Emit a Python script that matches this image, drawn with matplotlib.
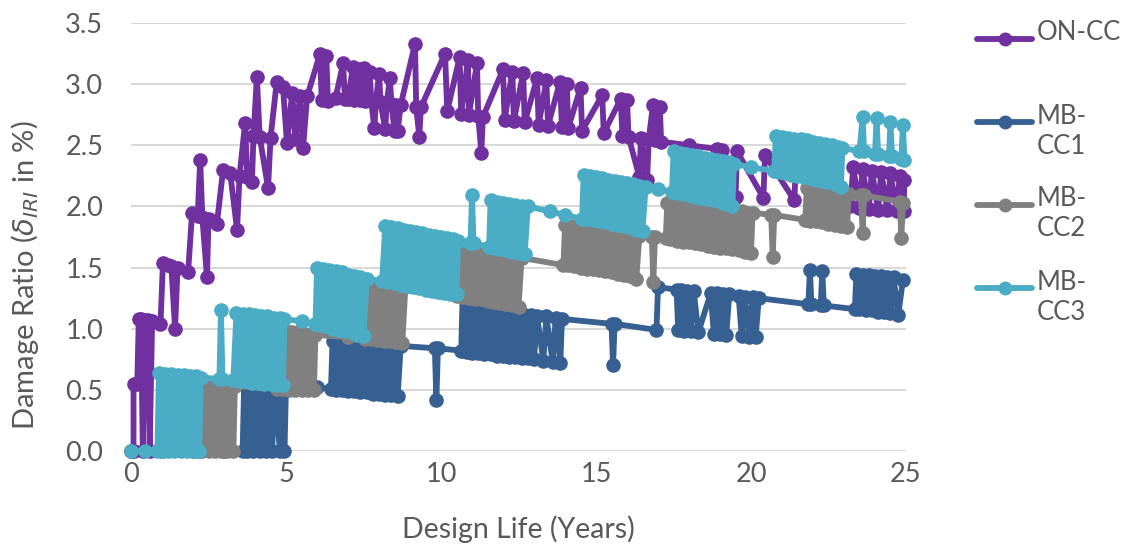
import matplotlib.pyplot as plt
from matplotlib.lines import Line2D

plt.rcParams["font.family"] = ["Lato", "DejaVu Sans"]
plt.rcParams["mathtext.fontset"] = "dejavusans"

# (year, damage ratio) pairs for each strategy
on_cc = [
    (0.0, 0.0), (0.08, 0.0), (0.08, 0.55), (0.2, 0.55), (0.25, 1.08), (0.32, 1.08),
    (0.38, 0.0), (0.45, 1.07), (0.55, 1.07), (0.6, 0.0), (0.68, 1.06), (0.95, 1.04),
    (1.03, 1.54), (1.2, 1.52), (1.3, 1.51), (1.42, 1.0), (1.5, 1.5), (1.84, 1.46),
    (1.97, 1.95), (2.15, 1.92), (2.23, 2.38), (2.3, 1.91), (2.45, 1.42), (2.5, 1.9),
    (2.77, 1.86), (2.97, 2.3), (3.2, 2.27), (3.42, 1.81), (3.5, 2.25), (3.68, 2.68),
    (3.75, 2.24), (3.9, 2.2), (3.95, 2.58), (4.06, 3.06), (4.15, 2.57), (4.42, 2.15),
    (4.5, 2.56), (4.7, 3.02), (4.9, 2.98), (5.03, 2.52), (5.2, 2.93), (5.3, 2.55),
    (5.45, 2.9), (5.55, 2.48), (5.68, 2.9), (6.1, 3.25), (6.15, 2.87), (6.3, 3.23),
    (6.35, 2.86), (6.6, 2.89), (6.84, 3.17), (6.9, 2.88), (7.0, 2.88), (7.16, 3.14),
    (7.2, 2.87), (7.35, 3.12), (7.4, 2.87), (7.5, 3.13), (7.55, 2.86), (7.7, 3.1),
    (7.75, 2.86), (7.85, 2.64), (7.9, 2.86), (8.0, 3.08), (8.05, 2.85), (8.2, 2.63),
    (8.25, 2.85), (8.35, 3.05), (8.4, 2.84), (8.5, 2.62), (8.55, 2.83), (8.6, 2.62),
    (8.7, 2.83), (9.16, 3.33), (9.2, 2.81), (9.3, 2.57), (9.35, 2.81), (10.13, 3.25),
    (10.2, 2.78), (10.6, 3.22), (10.65, 2.76), (10.87, 3.2), (10.9, 2.75), (11.16, 3.17),
    (11.2, 2.74), (11.3, 2.44), (11.35, 2.73), (12.0, 3.12), (12.05, 2.71), (12.3, 3.1),
    (12.35, 2.7), (12.65, 3.09), (12.7, 2.69), (13.1, 3.05), (13.15, 2.67), (13.4, 3.03),
    (13.45, 2.66), (13.84, 3.02), (13.9, 2.65), (14.06, 3.0), (14.1, 2.64), (14.5, 2.97),
    (14.55, 2.62), (15.2, 2.91), (15.25, 2.6), (15.8, 2.88), (15.85, 2.58), (16.0, 2.87),
    (16.05, 2.57), (16.4, 2.24), (16.45, 2.56), (16.65, 2.22), (16.7, 2.55), (16.84, 2.83),
    (16.9, 2.54), (17.06, 2.81), (17.1, 2.53), (18.0, 2.5), (18.9, 2.47), (19.0, 2.1),
    (19.05, 2.46), (19.5, 2.08), (19.55, 2.45), (20.4, 2.07), (20.45, 2.42), (21.4, 2.05),
    (21.45, 2.38), (22.5, 2.03), (22.55, 2.34), (23.2, 2.0), (23.3, 2.32), (23.5, 1.99),
    (23.6, 2.31), (23.8, 1.98), (23.9, 2.29), (24.1, 1.97), (24.2, 2.28), (24.4, 1.97),
    (24.5, 2.27), (24.7, 1.96), (24.8, 2.25), (24.92, 1.96), (24.95, 2.22),
]

mb_cc1 = [
    (0.0, 0.0), (1.0, 0.0), (2.0, 0.0), (3.0, 0.0), (3.6, 0.0), (3.65, 0.56),
    (3.75, 0.0), (3.85, 0.56), (3.95, 0.0), (4.05, 0.55), (4.15, 0.0), (4.25, 0.55),
    (4.35, 0.0), (4.45, 0.55), (4.55, 0.0), (4.65, 0.54), (4.8, 0.0), (4.85, 0.54),
    (4.95, 0.0), (5.0, 0.54), (6.0, 0.52), (6.45, 0.51),
    (6.5, 0.9), (6.6, 0.5), (6.7, 0.9), (6.8, 0.5), (6.9, 0.89), (7.0, 0.49),
    (7.1, 0.89), (7.2, 0.49), (7.3, 0.88), (7.4, 0.48), (7.5, 0.88), (7.6, 0.48),
    (7.7, 0.88), (7.8, 0.47), (7.9, 0.87), (8.0, 0.47), (8.1, 0.87), (8.2, 0.46),
    (8.3, 0.87), (8.4, 0.46), (8.5, 0.86), (8.6, 0.45), (8.7, 0.86),
    (9.8, 0.84), (9.85, 0.42), (9.9, 0.84), (10.65, 0.82), (10.7, 1.3), (10.75, 0.82),
    (10.85, 0.81),
    (10.9, 1.16), (11.0, 0.8), (11.1, 1.15), (11.2, 0.8), (11.3, 1.15), (11.4, 0.79),
    (11.5, 1.14), (11.6, 0.79), (11.7, 1.14), (11.8, 0.78), (11.9, 1.13), (12.0, 0.78),
    (12.1, 1.13), (12.2, 0.77), (12.3, 1.12), (12.4, 0.77), (12.5, 1.12), (12.6, 0.76),
    (12.7, 1.11), (12.8, 0.76), (12.9, 1.11), (13.0, 0.75), (13.1, 1.1), (13.3, 0.74),
    (13.4, 1.1), (13.6, 0.73), (13.7, 1.09), (13.85, 0.72), (13.9, 1.08),
    (15.5, 1.04), (15.55, 0.7), (15.6, 1.04), (16.95, 0.99), (17.0, 1.34), (17.6, 1.32),
    (17.65, 0.99), (17.75, 1.32), (17.85, 0.98), (17.95, 1.31), (18.05, 0.98),
    (18.15, 1.31), (18.3, 0.97), (18.7, 1.29), (18.8, 0.96), (18.9, 1.29), (19.0, 0.96),
    (19.1, 1.28), (19.2, 0.95), (19.3, 1.28), (19.6, 1.27), (19.7, 0.94), (19.8, 1.26),
    (19.95, 0.93), (20.05, 1.26), (20.15, 0.93), (20.25, 1.25),
    (21.85, 1.2), (21.9, 1.48), (21.95, 1.2), (22.25, 1.19), (22.3, 1.47), (22.35, 1.19),
    (23.35, 1.16), (23.4, 1.45), (23.5, 1.16), (23.6, 1.44), (23.7, 1.15), (23.8, 1.44),
    (23.9, 1.15), (24.0, 1.43), (24.1, 1.14), (24.2, 1.43), (24.3, 1.14), (24.4, 1.42),
    (24.5, 1.13), (24.6, 1.42), (24.75, 1.11), (24.9, 1.4),
]

mb_cc2 = [
    (0.0, 0.0), (1.0, 0.0), (2.15, 0.0), (2.2, 0.55), (2.3, 0.0), (2.4, 0.55),
    (2.5, 0.0), (2.6, 0.54), (2.7, 0.0), (2.8, 0.54), (2.9, 0.0), (3.0, 0.54),
    (3.1, 0.0), (3.2, 0.53), (3.3, 0.0), (3.35, 0.53), (4.7, 0.51),
    (4.8, 0.98), (4.9, 0.51), (5.0, 0.98), (5.1, 0.5), (5.2, 0.97), (5.3, 0.5),
    (5.4, 0.97), (5.5, 0.5), (5.6, 0.96), (5.7, 0.5), (5.8, 0.96), (5.9, 0.5),
    (5.95, 0.95), (7.0, 0.93), (7.55, 0.92),
    (7.65, 1.37), (7.75, 0.92), (7.85, 1.36), (7.95, 0.91), (8.05, 1.36), (8.15, 0.9),
    (8.25, 1.35), (8.35, 0.9), (8.45, 1.35), (8.55, 0.89), (8.65, 1.34), (8.75, 0.88),
    (8.85, 1.34), (10.5, 1.27),
    (10.6, 1.66), (10.7, 1.26), (10.8, 1.65), (10.9, 1.25), (11.0, 1.64), (11.1, 1.24),
    (11.2, 1.64), (11.3, 1.24), (11.4, 1.63), (11.5, 1.23), (11.6, 1.62), (11.7, 1.22),
    (11.8, 1.62), (11.9, 1.21), (12.0, 1.61), (12.1, 1.2), (12.2, 1.6), (12.3, 1.19),
    (12.4, 1.59), (12.5, 1.18), (12.6, 1.58), (13.95, 1.52),
    (14.0, 1.85), (14.1, 1.52), (14.2, 1.84), (14.3, 1.51), (14.4, 1.84), (14.5, 1.5),
    (14.6, 1.83), (14.7, 1.49), (14.8, 1.82), (14.9, 1.49), (15.0, 1.81), (15.1, 1.48),
    (15.2, 1.81), (15.3, 1.47), (15.4, 1.8), (15.5, 1.46), (15.6, 1.79), (15.7, 1.45),
    (15.8, 1.78), (15.9, 1.44), (16.0, 1.77), (16.1, 1.43), (16.2, 1.77), (16.3, 1.41),
    (16.4, 1.76), (16.8, 1.75), (16.85, 1.38), (16.9, 1.75), (17.25, 1.74),
    (17.3, 2.03), (17.4, 1.73), (17.5, 2.02), (17.6, 1.72), (17.7, 2.02), (17.8, 1.71),
    (17.9, 2.01), (18.0, 1.71), (18.1, 2.0), (18.2, 1.7), (18.3, 2.0), (18.4, 1.69),
    (18.5, 1.99), (18.6, 1.68), (18.7, 1.98), (18.8, 1.67), (18.9, 1.98), (19.0, 1.66),
    (19.1, 1.97), (19.2, 1.66), (19.3, 1.97), (19.4, 1.65), (19.5, 1.96), (19.6, 1.64),
    (19.7, 1.96), (19.8, 1.63), (19.9, 1.95), (20.0, 1.62), (20.05, 1.95), (20.65, 1.93),
    (20.7, 1.59), (20.75, 1.93), (21.75, 1.89),
    (21.8, 2.15), (21.9, 1.88), (22.0, 2.14), (22.1, 1.88), (22.2, 2.14), (22.3, 1.87),
    (22.4, 2.13), (22.5, 1.86), (22.6, 2.12), (22.7, 1.85), (22.8, 2.12), (22.9, 1.84),
    (23.0, 2.11), (23.1, 1.83), (23.15, 2.1), (23.55, 2.09), (23.6, 1.78), (23.65, 2.09),
    (24.8, 2.04), (24.85, 1.74), (24.9, 2.03),
]

mb_cc3 = [
    (0.0, 0.0), (0.45, 0.0), (0.85, 0.0), (0.9, 0.64), (1.0, 0.0), (1.1, 0.63),
    (1.2, 0.0), (1.3, 0.63), (1.4, 0.0), (1.5, 0.62), (1.6, 0.0), (1.7, 0.62),
    (1.8, 0.0), (1.9, 0.61), (2.0, 0.0), (2.1, 0.61), (2.2, 0.0), (2.25, 0.6),
    (2.85, 0.59), (2.9, 1.15), (2.95, 0.59), (3.3, 0.58),
    (3.4, 1.13), (3.5, 0.57), (3.6, 1.12), (3.7, 0.57), (3.8, 1.12), (3.9, 0.56),
    (4.0, 1.11), (4.1, 0.56), (4.2, 1.1), (4.3, 0.55), (4.4, 1.1), (4.5, 0.55),
    (4.6, 1.09), (4.7, 0.54), (4.8, 1.09), (4.9, 0.54), (4.95, 1.08), (5.5, 1.06),
    (5.95, 1.04),
    (6.0, 1.5), (6.1, 1.03), (6.2, 1.49), (6.3, 1.02), (6.4, 1.48), (6.5, 1.0),
    (6.6, 1.47), (6.7, 0.99), (6.8, 1.46), (6.9, 0.98), (7.0, 1.44), (7.1, 0.97),
    (7.2, 1.43), (7.3, 0.95), (7.4, 1.42), (7.5, 0.94), (7.6, 1.41), (8.1, 1.39),
    (8.2, 1.84), (8.3, 1.38), (8.4, 1.83), (8.5, 1.37), (8.6, 1.82), (8.7, 1.36),
    (8.8, 1.81), (8.9, 1.35), (9.0, 1.8), (9.1, 1.34), (9.2, 1.79), (9.3, 1.33),
    (9.4, 1.78), (9.5, 1.32), (9.6, 1.77), (9.7, 1.31), (9.8, 1.76), (9.9, 1.3),
    (10.0, 1.75), (10.1, 1.29), (10.2, 1.74), (10.3, 1.28), (10.4, 1.73), (10.5, 1.28),
    (10.55, 1.72), (10.95, 1.7), (11.0, 2.09), (11.05, 1.7), (11.55, 1.67),
    (11.6, 2.05), (11.7, 1.66), (11.8, 2.04), (11.9, 1.65), (12.0, 2.03), (12.1, 1.64),
    (12.2, 2.02), (12.3, 1.63), (12.4, 2.01), (12.5, 1.62), (12.6, 2.0), (12.7, 1.61),
    (12.8, 2.0), (13.5, 1.96), (14.0, 1.93), (14.55, 1.9),
    (14.6, 2.26), (14.7, 1.9), (14.8, 2.25), (14.9, 1.89), (15.0, 2.24), (15.1, 1.88),
    (15.2, 2.23), (15.3, 1.87), (15.4, 2.22), (15.5, 1.86), (15.6, 2.21), (15.7, 1.85),
    (15.8, 2.2), (15.9, 1.84), (16.0, 2.19), (16.1, 1.83), (16.2, 2.18), (16.3, 1.81),
    (16.4, 2.17), (16.5, 1.8), (16.6, 2.16), (17.0, 2.14), (17.45, 2.12),
    (17.5, 2.45), (17.6, 2.11), (17.7, 2.44), (17.8, 2.1), (17.9, 2.43), (18.0, 2.09),
    (18.1, 2.42), (18.2, 2.08), (18.3, 2.41), (18.4, 2.07), (18.5, 2.4), (18.6, 2.06),
    (18.7, 2.39), (18.8, 2.05), (18.9, 2.38), (19.0, 2.04), (19.1, 2.37), (19.2, 2.02),
    (19.3, 2.36), (19.4, 2.0), (19.45, 2.35), (20.0, 2.32), (20.75, 2.29),
    (20.8, 2.58), (20.9, 2.28), (21.0, 2.57), (21.1, 2.27), (21.2, 2.56), (21.3, 2.26),
    (21.4, 2.55), (21.5, 2.25), (21.6, 2.55), (21.7, 2.24), (21.8, 2.54), (21.9, 2.23),
    (22.0, 2.53), (22.1, 2.22), (22.2, 2.52), (22.3, 2.21), (22.4, 2.51), (22.5, 2.2),
    (22.6, 2.5), (22.7, 2.18), (22.8, 2.49), (22.9, 2.16), (22.95, 2.48),
    (23.5, 2.45), (23.6, 2.73), (23.65, 2.45), (24.0, 2.43), (24.05, 2.72), (24.1, 2.43),
    (24.45, 2.41), (24.5, 2.69), (24.55, 2.41), (24.85, 2.39), (24.9, 2.67), (24.95, 2.38),
]

names = ["ON-CC", "MB-\nCC1", "MB-\nCC2", "MB-\nCC3"]
colors = ["#7030A0", "#376092", "#808080", "#4BACC6"]
series = [on_cc, mb_cc1, mb_cc2, mb_cc3]

fig = plt.figure(figsize=(11.21, 5.48), dpi=100)
ax = fig.add_axes([0.1169, 0.177, 0.6913, 0.781])

for pts, col in zip(series, colors):
    xs, ys = zip(*pts)
    ax.plot(xs, ys, color=col, lw=4.2, marker="o", ms=9.5,
            solid_joinstyle="round", clip_on=False, zorder=3)

ax.set_xlim(0, 25)
ax.set_ylim(0, 3.5)
ax.set_xticks(range(0, 26, 5))
ax.set_yticks([0, 0.5, 1.0, 1.5, 2.0, 2.5, 3.0, 3.5])
ax.set_yticklabels([f"{v:.1f}" for v in ax.get_yticks()])
ax.grid(axis="y", color="#D9D9D9", lw=1.5)
ax.set_axisbelow(True)
for s in ax.spines.values():
    s.set_visible(False)
ax.tick_params(axis="both", length=0, labelsize=19.5, labelcolor="#595959")
ax.tick_params(axis="y", pad=20)
ax.tick_params(axis="x", pad=8)

ax.set_xlabel("Design Life (Years)", fontsize=20.5, color="#595959", labelpad=20)
ax.set_ylabel(r"Damage Ratio ($\delta_{IRI}$ in %)", fontsize=21, color="#595959")
ax.yaxis.set_label_coords(-0.116, 0.41)

# legend on the right, drawn by hand so the wrapped labels sit like the original
legend_y = [0.929, 0.777, 0.626, 0.474]
for name, col, y in zip(names, colors, legend_y):
    fig.add_artist(Line2D([0.8715, 0.9206], [y, y], color=col, lw=4.2,
                          solid_capstyle="round", transform=fig.transFigure))
    fig.add_artist(Line2D([0.8966], [y], color=col, marker="o", ms=9,
                          transform=fig.transFigure))
    fig.text(0.9245, y + 0.034, name, fontsize=18.5, color="#595959",
             va="top", ha="left", linespacing=1.25)

fig.savefig("out.png", dpi=100)
